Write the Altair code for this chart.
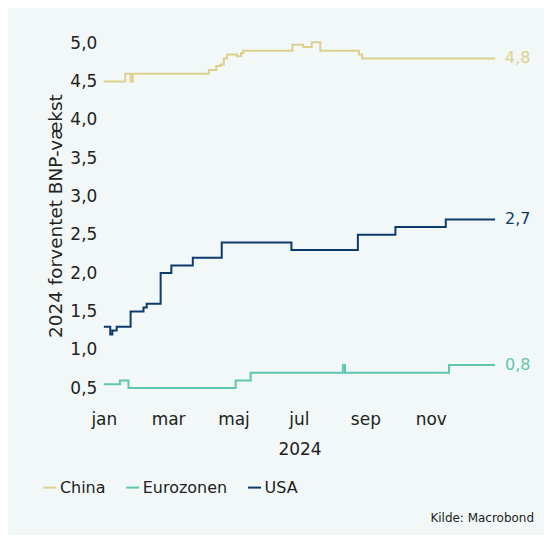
import altair as alt
import pandas as pd

# ---- data (step series: change dates and new values) ----
china_dates = ["2024-01-01", "2024-01-21", "2024-01-26", "2024-01-28", "2024-04-08", "2024-04-15",
               "2024-04-19", "2024-04-22", "2024-04-25", "2024-05-04", "2024-05-08", "2024-05-10",
               "2024-06-25", "2024-07-05", "2024-07-13", "2024-07-21", "2024-08-26", "2024-08-29",
               "2024-12-31"]
china_vals = [4.5, 4.6, 4.5, 4.6, 4.65, 4.7, 4.72, 4.8, 4.85, 4.83, 4.87, 4.9,
              4.98, 4.95, 5.01, 4.9, 4.85, 4.8, 4.8]

euro_dates = ["2024-01-01", "2024-01-16", "2024-01-24", "2024-05-03", "2024-05-17",
              "2024-08-11", "2024-08-13", "2024-11-18", "2024-12-31"]
euro_vals = [0.55, 0.6, 0.5, 0.6, 0.7, 0.8, 0.7, 0.8, 0.8]

usa_dates = ["2024-01-01", "2024-01-07", "2024-01-09", "2024-01-13", "2024-01-26", "2024-02-07",
             "2024-02-10", "2024-02-23", "2024-03-04", "2024-03-24", "2024-04-20", "2024-06-24",
             "2024-08-25", "2024-09-29", "2024-11-15", "2024-12-31"]
usa_vals = [1.3, 1.2, 1.25, 1.3, 1.5, 1.55, 1.6, 2.0, 2.1, 2.2, 2.4, 2.3, 2.5, 2.6, 2.7, 2.7]

series_names = ["China", "Eurozonen", "USA"]
series_colors = ["#ddd08e", "#5ec6b1", "#0d3a6c"]
end_labels = ["4,8", "0,8", "2,7"]
y_ticks = [0.5, 1.0, 1.5, 2.0, 2.5, 3.0, 3.5, 4.0, 4.5, 5.0]
month_names = ["jan", "feb", "mar", "apr", "maj", "jun", "jul", "aug", "sep", "okt", "nov", "dec"]
x_tick_months = [1, 3, 5, 7, 9, 11]

rows = []
for name, ds, vs in [("China", china_dates, china_vals),
                     ("Eurozonen", euro_dates, euro_vals),
                     ("USA", usa_dates, usa_vals)]:
    for d, v in zip(ds, vs):
        rows.append({"date": d, "value": v, "serie": name})
df = pd.DataFrame(rows)

last = pd.DataFrame({
    "date": ["2024-12-31"] * 3,
    "value": [china_vals[-1], euro_vals[-1], usa_vals[-1]],
    "serie": series_names,
    "label": end_labels,
})

FONT = "DejaVu Sans"
TXT = "#222222"

month_expr = "[" + ",".join("'%s'" % m for m in month_names) + "][utcmonth(datum.value)]"

x_enc = alt.X(
    "date:T",
    scale=alt.Scale(type="utc",
                    domain=[alt.DateTime(year=2024, month=1, date=1, utc=True),
                            alt.DateTime(year=2024, month=12, date=31, utc=True)]),
    axis=alt.Axis(
        values=[alt.DateTime(year=2024, month=m, date=1, utc=True) for m in x_tick_months],
        labelExpr=month_expr,
        labelFlush=False, labelAlign="center",
        title="2024",
        domain=False, ticks=False, grid=False,
        labelFontSize=17, labelColor=TXT, labelFont=FONT, labelPadding=16,
        titleFontSize=17, titleColor=TXT, titleFont=FONT, titleFontWeight="normal",
        titlePadding=14,
    ),
)

y_enc = alt.Y(
    "value:Q",
    scale=alt.Scale(domain=[0.4, 5.1], nice=False, zero=False),
    axis=alt.Axis(
        values=y_ticks,
        labelExpr="replace(format(datum.value, '.1f'), '.', ',')",
        title="2024 forventet BNP-vækst",
        domain=False, ticks=False, grid=False,
        labelFontSize=17, labelColor=TXT, labelFont=FONT, labelPadding=7,
        titleFontSize=18.5, titleColor=TXT, titleFont=FONT, titleFontWeight="normal",
        titlePadding=4,
    ),
)

color_enc = alt.Color(
    "serie:N",
    scale=alt.Scale(domain=series_names, range=series_colors),
    legend=alt.Legend(
        title=None, orient="none", direction="horizontal",
        legendX=-62, legendY=445,
        symbolType="stroke", symbolSize=169, symbolStrokeWidth=2,
        labelFontSize=16, labelFont=FONT, labelColor=TXT,
        labelOffset=2, columnPadding=16,
    ),
)

lines = alt.Chart(df).mark_line(interpolate="step-after", strokeWidth=2).encode(
    x=x_enc, y=y_enc, color=color_enc
)

labels = alt.Chart(last).mark_text(align="left", baseline="middle", dx=10, fontSize=16, font=FONT).encode(
    x=alt.X("date:T"), y=alt.Y("value:Q"), text="label:N",
    color=alt.Color("serie:N", legend=None),
)

source = alt.Chart(pd.DataFrame({"t": ["Kilde: Macrobond"]})).mark_text(
    align="right", baseline="middle", fontSize=12, font=FONT, color=TXT
).encode(x=alt.value(431), y=alt.value(483), text="t:N")

chart = alt.layer(lines, labels, source).properties(
    width=392, height=361,
    autosize=alt.AutoSizeParams(type="none"),
    padding={"left": 96, "top": 27, "right": 49, "bottom": 139},
    background="#f1f8f7",
).configure_view(stroke=None)

chart.save("out.html", embed_options={"renderer": "svg", "actions": False})
